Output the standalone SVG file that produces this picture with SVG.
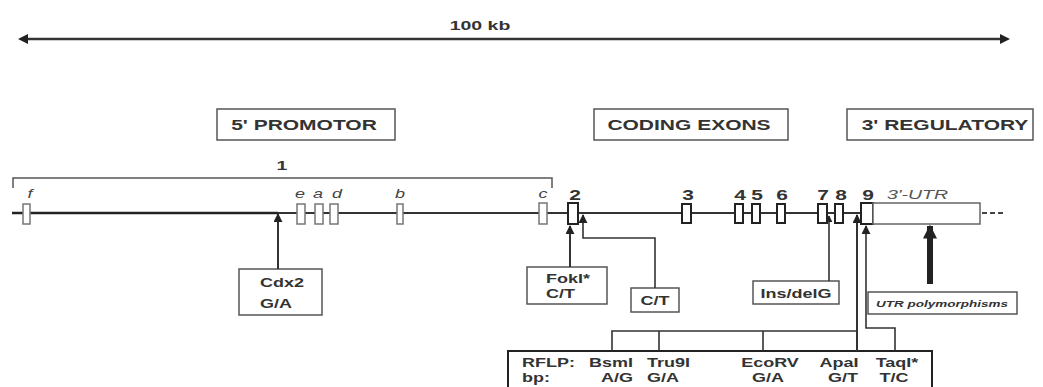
<svg xmlns="http://www.w3.org/2000/svg" width="1043" height="387" viewBox="0 0 1043 387">
<style>
text{font-family:"Liberation Sans",Arial,sans-serif;fill:#333;}
.title{font-size:14px;font-weight:bold;text-anchor:middle;}
.num{font-size:14px;font-weight:bold;text-anchor:middle;}
.ital{font-size:12px;font-style:italic;text-anchor:middle;fill:#444;}
.lab{font-size:12px;font-weight:bold;}
.box{fill:#fff;stroke:#555;stroke-width:1.5;}
.pex{fill:#fff;stroke:#777;stroke-width:1.5;}
.cex{fill:#fff;stroke:#222;stroke-width:2;}
.ln{fill:none;stroke:#333;stroke-width:2;}
.thin{fill:none;stroke:#333;stroke-width:1.6;}
</style>
<defs>
<marker id="ah" viewBox="0 0 10 10" refX="9" refY="5" markerWidth="9" markerHeight="9" markerUnits="userSpaceOnUse" orient="auto">
<path d="M0,0 L10,5 L0,10 z" fill="#222"/>
</marker>
<marker id="ahs" viewBox="0 0 10 10" refX="9" refY="5" markerWidth="7" markerHeight="7" markerUnits="userSpaceOnUse" orient="auto">
<path d="M0,0 L10,5 L0,10 z" fill="#222"/>
</marker>
<marker id="ahb" viewBox="0 0 10 10" refX="9" refY="5" markerWidth="14" markerHeight="16" markerUnits="userSpaceOnUse" orient="auto">
<path d="M0,0 L10,5 L0,10 z" fill="#222"/>
</marker>
</defs>
<rect width="1043" height="387" fill="#fff"/>

<g id="scale">
<line x1="28" y1="39" x2="1000" y2="39" stroke="#333" stroke-width="2.5"/>
<path d="M18,39 L28,34 L28,44 z" fill="#222"/>
<path d="M1010,39 L1000,34 L1000,44 z" fill="#222"/>
<text class="title" transform="translate(480,30) scale(1.5,1)" style="font-size:13px">100 kb</text>
</g>

<g id="promotor-title">
<rect x="217" y="109" width="178" height="31" class="box"/>
<text class="title" transform="translate(304,130) scale(1.5,1)">5' PROMOTOR</text>
</g>
<g id="coding-title">
<rect x="594" y="109" width="194" height="31" class="box"/>
<text class="title" transform="translate(689,130) scale(1.5,1)">CODING EXONS</text>
</g>
<g id="regulatory-title">
<rect x="847" y="109" width="186" height="31" class="box"/>
<text class="title" transform="translate(945,130) scale(1.5,1)">3' REGULATORY</text>
</g>

<g id="exon1-bracket">
<path d="M13,188 L13,178 L552,178 L552,188" fill="none" stroke="#555" stroke-width="1.5"/>
<text class="num" transform="translate(282,170) scale(1.5,1)" style="font-size:13px">1</text>
</g>

<g id="backbone">
<line x1="12" y1="213" x2="278" y2="213" stroke="#222" stroke-width="2.5"/>
<line x1="278" y1="213" x2="861" y2="213" stroke="#333" stroke-width="1.8"/>
<line x1="982" y1="213" x2="1006" y2="213" stroke="#444" stroke-width="2" stroke-dasharray="5,3"/>
</g>

<g id="promoter-exons">
<rect x="23" y="204" width="7" height="20" class="pex"/>
<text class="ital" transform="translate(30,198) scale(1.5,1)">f</text>
<rect x="297" y="204" width="8" height="20" class="pex"/>
<text class="ital" transform="translate(300,198) scale(1.5,1)">e</text>
<rect x="315" y="204" width="8" height="20" class="pex"/>
<text class="ital" transform="translate(318,198) scale(1.5,1)">a</text>
<rect x="330" y="204" width="8" height="20" class="pex"/>
<text class="ital" transform="translate(337,198) scale(1.5,1)">d</text>
<rect x="397" y="204" width="6" height="20" class="pex"/>
<text class="ital" transform="translate(400,198) scale(1.5,1)">b</text>
<rect x="539" y="203" width="8" height="21" class="pex"/>
<text class="ital" transform="translate(543,198) scale(1.5,1)">c</text>
</g>

<g id="coding-exons">
<rect x="568" y="203" width="10" height="21" class="cex"/>
<text class="num" transform="translate(575,200) scale(1.5,1)">2</text>
<rect x="682" y="204" width="9" height="19" class="cex"/>
<text class="num" transform="translate(688,200) scale(1.5,1)">3</text>
<rect x="735" y="204" width="8" height="19" class="cex"/>
<text class="num" transform="translate(740,200) scale(1.5,1)">4</text>
<rect x="752" y="204" width="8" height="19" class="cex"/>
<text class="num" transform="translate(757,200) scale(1.5,1)">5</text>
<rect x="777" y="204" width="8" height="19" class="cex"/>
<text class="num" transform="translate(782,200) scale(1.5,1)">6</text>
<rect x="818" y="204" width="9" height="19" class="cex"/>
<text class="num" transform="translate(823,200) scale(1.5,1)">7</text>
<rect x="835" y="204" width="8" height="19" class="cex"/>
<text class="num" transform="translate(841,200) scale(1.5,1)">8</text>
<rect x="861" y="203" width="12" height="21" class="cex"/>
<text class="num" transform="translate(868,200) scale(1.5,1)">9</text>
</g>

<g id="utr">
<rect x="873" y="203" width="107" height="21" fill="#fff" stroke="#666" stroke-width="1.5"/>
<text transform="translate(887,199) scale(1.5,1)" style="font-size:13px;font-style:italic;fill:#555">3'-UTR</text>
</g>

<g id="cdx2">
<rect x="239" y="269" width="83" height="46" class="box"/>
<text class="lab" transform="translate(260,287) scale(1.5,1)">Cdx2</text>
<text class="lab" transform="translate(260,308) scale(1.5,1)">G/A</text>
</g>
<g id="foki">
<rect x="527" y="267" width="80" height="37" class="box"/>
<text class="lab" transform="translate(546,283) scale(1.5,1)">FokI*</text>
<text class="lab" transform="translate(546,298) scale(1.5,1)">C/T</text>
</g>
<g id="ct">
<rect x="631" y="288" width="48" height="24" class="box"/>
<text class="lab" transform="translate(655,305) scale(1.5,1)" text-anchor="middle">C/T</text>
</g>
<g id="insdel">
<rect x="753" y="281" width="86" height="23" class="box"/>
<text class="lab" transform="translate(796,298) scale(1.5,1)" text-anchor="middle">Ins/delG</text>
</g>
<g id="utr-poly">
<rect x="868" y="292" width="149" height="22" class="box"/>
<text transform="translate(942,307) scale(1.5,1)" text-anchor="middle" style="font-size:9px;font-weight:bold;font-style:italic">UTR polymorphisms</text>
</g>
<g id="rflp">
<rect x="508" y="351" width="424" height="50" fill="#fff" stroke="#222" stroke-width="2"/>
<text class="lab" transform="translate(522,367) scale(1.5,1)">RFLP:</text>
<text class="lab" transform="translate(522,382) scale(1.5,1)">bp:</text>
<text class="lab" transform="translate(633,367) scale(1.5,1)" text-anchor="end">BsmI</text>
<text class="lab" transform="translate(633,382) scale(1.5,1)" text-anchor="end">A/G</text>
<text class="lab" transform="translate(647,367) scale(1.5,1)">Tru9I</text>
<text class="lab" transform="translate(647,382) scale(1.5,1)">G/A</text>
<text class="lab" transform="translate(770,367) scale(1.5,1)" text-anchor="middle">EcoRV</text>
<text class="lab" transform="translate(768,382) scale(1.5,1)" text-anchor="middle">G/A</text>
<text class="lab" transform="translate(839,367) scale(1.5,1)" text-anchor="middle">ApaI</text>
<text class="lab" transform="translate(843,382) scale(1.5,1)" text-anchor="middle">G/T</text>
<text class="lab" transform="translate(897,367) scale(1.5,1)" text-anchor="middle">TaqI*</text>
<text class="lab" transform="translate(894,382) scale(1.5,1)" text-anchor="middle">T/C</text>
</g>

<g id="connectors">
<line x1="278" y1="269" x2="278" y2="214" class="ln" stroke-width="2.5" marker-end="url(#ah)"/>
<line x1="570" y1="267" x2="570" y2="226" class="ln" stroke-width="2.5" marker-end="url(#ah)"/>
<path d="M655,288 L655,238 L583,238 L583,215" class="thin" marker-end="url(#ah)"/>
<path d="M829,281 L829,216" class="thin" marker-end="url(#ahs)"/>
<path d="M857,351 L857,215" class="ln" stroke-width="2" marker-end="url(#ah)"/>
<path d="M895,351 L895,328 L866,328 L866,226" class="thin" marker-end="url(#ah)"/>
<path d="M612,351 L612,331 L857,331 M659,331 L659,351 M763,331 L763,351" class="thin"/>
<line x1="930" y1="284" x2="930" y2="226" stroke="#222" stroke-width="6" marker-end="url(#ahb)"/>
</g>
</svg>
